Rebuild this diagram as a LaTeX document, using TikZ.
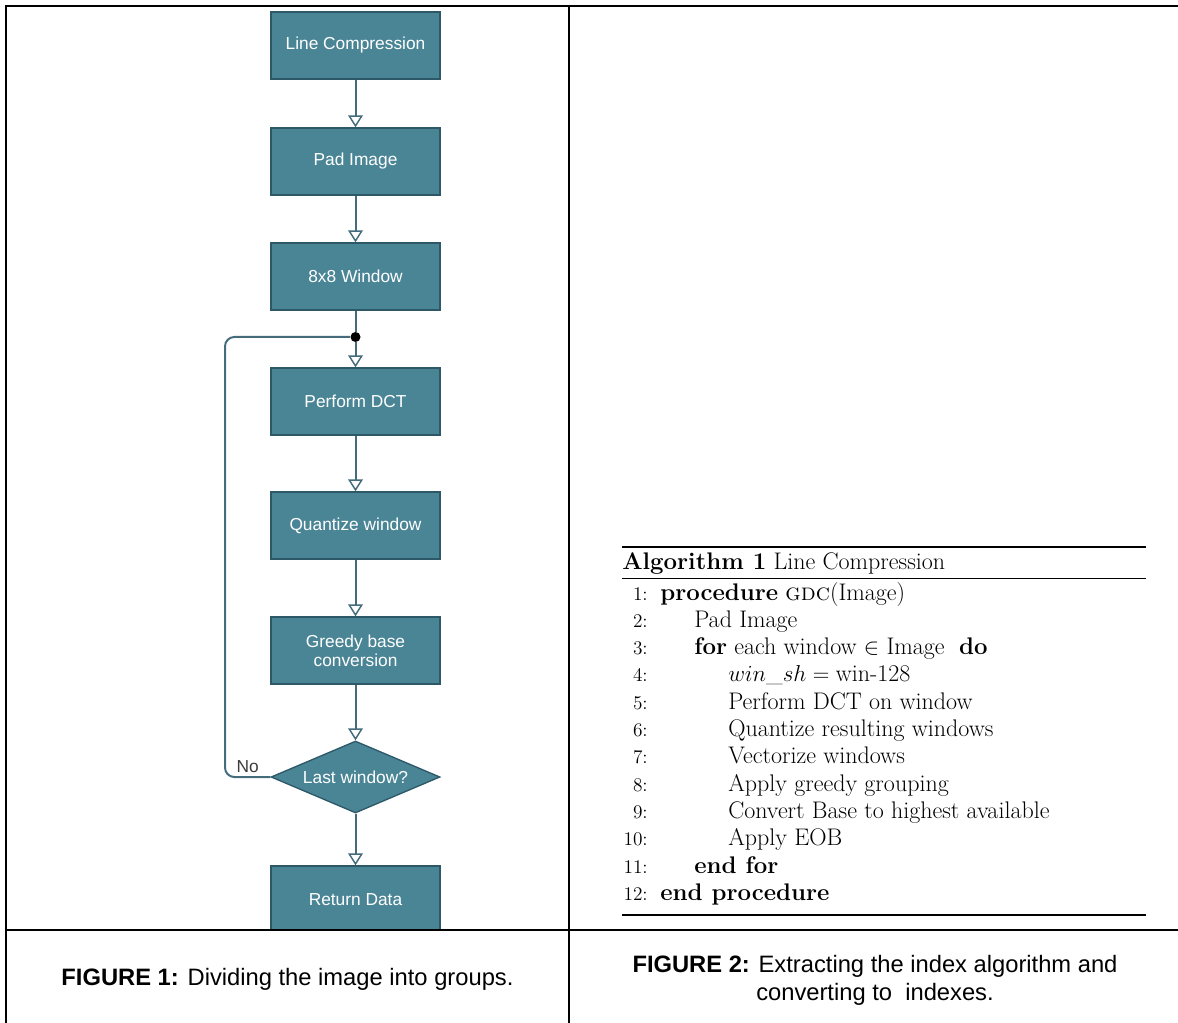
\documentclass[tikz,border=0pt]{standalone}
\usepackage{fontspec}
\usetikzlibrary{shapes.geometric,arrows.meta}
\newfontfamily\flowfont{Liberation Sans}
\definecolor{boxfill}{RGB}{74,133,150}
\definecolor{boxedge}{RGB}{45,88,104}
\definecolor{flowline}{RGB}{68,108,125}
\definecolor{notext}{RGB}{60,60,60}

\begin{document}
\begin{tikzpicture}[
  x=0.75pt, y=-0.75pt,
  stepbox/.style={draw=boxedge, line width=1pt, fill=boxfill, text=white,
    minimum width=126.75pt, minimum height=50.25pt, inner sep=0pt,
    align=center, font=\flowfont\fontsize{13}{14.5}\selectfont},
  testbox/.style={stepbox, diamond, aspect=2.35, minimum height=54pt},
  flow/.style={draw=flowline, line width=1.5pt,
    -{Triangle[open, width=11pt, length=9pt, line width=1.1pt]}},
  flowplain/.style={draw=flowline, line width=1.5pt},
  junc/.style={circle, fill=black, inner sep=0pt, minimum size=7.5pt},
  tabline/.style={line width=1.5pt},
  caption/.style={align=center, font=\flowfont\fontsize{17.8}{21}\selectfont},
  algnum/.style={anchor=base east, inner sep=0pt, font=\fontsize{14.5}{17}\selectfont},
  algtext/.style={anchor=base west, inner sep=0pt, font=\fontsize{18}{21}\selectfont}
]
\useasboundingbox (0,0) rectangle (1178,1023);

% flowchart
\begin{scope}
\clip (6,6) rectangle (569,930);
\node [stepbox] (lcomp) at (355.5,45.5) {Line Compression};
\node [stepbox] (pad) at (355.5,161.5) {Pad Image};
\node [stepbox] (window) at (355.5,276.5) {8x8 Window};
\node [stepbox] (dct) at (355.5,401.5) {Perform DCT};
\node [stepbox] (quant) at (355.5,525.5) {Quantize window};
\node [stepbox] (greedy) at (355.5,650.5) {Greedy base\\conversion};
\node [testbox] (last) at (355.5,777) {Last window?};
\node [stepbox] (ret) at (355.5,899.5) {Return Data};
\node [junc] (split) at (355.5,337) {};

\draw [flow] (lcomp) -- (pad);
\draw [flow] (pad) -- (window);
\draw [flowplain] (window) -- (split);
\draw [flow] (split) -- (dct);
\draw [flow] (dct) -- (quant);
\draw [flow] (quant) -- (greedy);
\draw [flow] (greedy) -- (last);
\draw [flow] (last) -- (ret);
\draw [flowplain, rounded corners=7pt] (last.west) -- node [above=-1pt, text=notext, font=\flowfont\fontsize{13}{15}\selectfont] (no) {No} (225,777) -- (225,337) -- (split);
\end{scope}

% algorithm
\draw [line width=1.1pt] (622,547) -- (1146,547);
\node [algtext] (algtitle) at (622,569) {\textbf{Algorithm 1} Line Compression};
\draw [line width=0.7pt] (622,578) -- (1146,578);
\foreach \n/\lvl/\txt in {
  1/0/{\textbf{procedure} \textsc{gdc}(Image)},
  2/1/{Pad Image},
  3/1/{\textbf{for} each window $\in$ Image \ \textbf{do}},
  4/2/{$win\_sh = \mbox{win-128}$},
  5/2/{Perform DCT on window},
  6/2/{Quantize resulting windows},
  7/2/{Vectorize windows},
  8/2/{Apply greedy grouping},
  9/2/{Convert Base to highest available},
  10/2/{Apply EOB},
  11/1/{\textbf{end for}},
  12/0/{\textbf{end procedure}}} {
  \node [algnum] (num\n) at (648,{600+27.3*(\n-1)}) {\n:};
  \node [algtext] (line\n) at ({660+34*\lvl},{600+27.3*(\n-1)}) {\txt};
}
\draw [line width=1.1pt] (622,915) -- (1146,915);

% table
\draw [tabline] (6,1023) -- (6,6) -- (1178,6);
\draw [tabline] (569,6) -- (569,1023);
\draw [tabline] (6,930) -- (1178,930);

\node [caption] (cap1) at (287.5,979) {\textbf{FIGURE 1:} Dividing the image into groups.};
\node [caption] (cap2) at (875,980) {\textbf{FIGURE 2:} Extracting the index algorithm and\\converting to\ \ indexes.};
\end{tikzpicture}
\end{document}
